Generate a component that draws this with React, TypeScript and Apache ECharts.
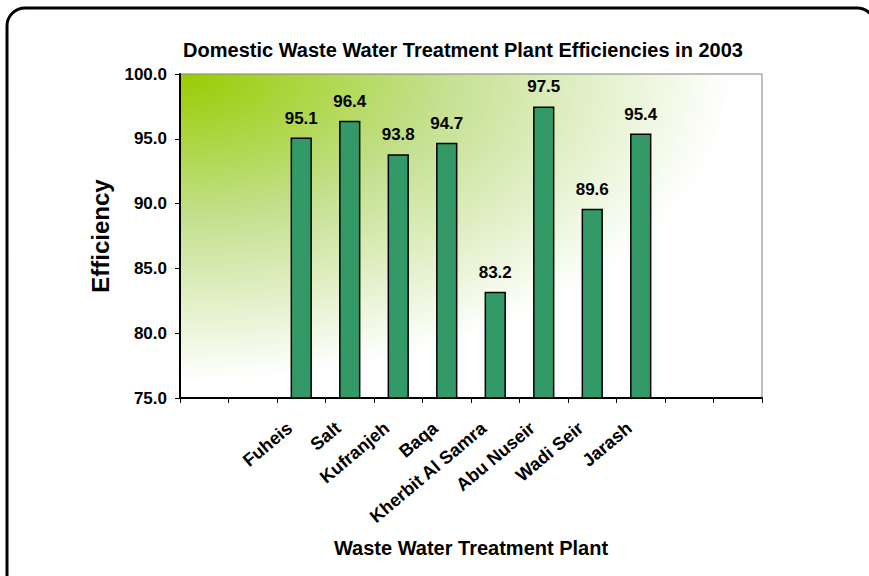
import React, { useEffect, useRef } from "react";
import * as echarts from "echarts";

const categories = ["", "", "Fuheis", "Salt", "Kufranjeh", "Baqa", "Kherbit Al Samra", "Abu Nuseir", "Wadi Seir", "Jarash", "", ""];
const efficiency: (number | null)[] = [null, null, 95.1, 96.4, 93.8, 94.7, 83.2, 97.5, 89.6, 95.4, null, null];
const titleText = "Domestic Waste Water Treatment Plant Efficiencies in 2003";
const xAxisName = "Waste Water Treatment Plant";
const yAxisName = "Efficiency";

export default function App() {
  const ref = useRef<HTMLDivElement>(null);
  useEffect(() => {
    if (!ref.current) return;
    const chart = echarts.init(ref.current, null, { renderer: "svg" });
    const font = "Liberation Sans, Arial, sans-serif";
    chart.setOption({
      animation: false,
      backgroundColor: "#ffffff",
      textStyle: { fontFamily: font },
      title: {
        text: titleText,
        left: 458,
        top: 35,
        textAlign: "center",
        textStyle: { fontFamily: font, fontWeight: "bold", fontSize: 20, color: "#000" },
      },
      graphic: [
        {
          type: "rect",
          shape: { x: 7, y: 8, width: 868, height: 585, r: 18 },
          style: { fill: "none", stroke: "#000", lineWidth: 3 },
          silent: true,
          z: 100,
        },
      ],
      grid: {
        left: 180,
        right: 107,
        top: 74,
        bottom: 178,
        show: true,
        borderColor: "#808080",
        borderWidth: 1,
        backgroundColor: new echarts.graphic.RadialGradient(0, 0, 1, [
          { offset: 0, color: "#99cc00" },
          { offset: 0.45, color: "#c4e08f" },
          { offset: 0.95, color: "#ffffff" },
          { offset: 1, color: "#ffffff" },
        ]),
      },
      xAxis: {
        type: "category",
        data: categories,
        name: xAxisName,
        nameLocation: "middle",
        nameGap: 140,
        nameTextStyle: { fontFamily: font, fontWeight: "bold", fontSize: 20, color: "#000" },
        axisLine: { lineStyle: { color: "#000", width: 2 } },
        axisTick: { show: true, length: 5, lineStyle: { color: "#000", width: 1 } },
        axisLabel: {
          interval: 0,
          rotate: 40,
          margin: 18,
          padding: [0, 15, 0, 0],
          fontFamily: font,
          fontWeight: "bold",
          fontSize: 18,
          color: "#000",
        },
      },
      yAxis: {
        type: "value",
        min: 75,
        max: 100,
        interval: 5,
        name: yAxisName,
        nameLocation: "middle",
        nameGap: 68,
        nameTextStyle: { fontFamily: font, fontWeight: "bold", fontSize: 24, color: "#000" },
        axisLine: { show: true, lineStyle: { color: "#000", width: 2 } },
        axisTick: { show: true, length: 5, lineStyle: { color: "#000", width: 1 } },
        splitLine: { show: false },
        axisLabel: {
          formatter: (v: number) => v.toFixed(1),
          margin: 13,
          fontFamily: font,
          fontWeight: "bold",
          fontSize: 17,
          color: "#000",
        },
      },
      series: [
        {
          type: "bar",
          data: efficiency,
          barWidth: "44%",
          itemStyle: { color: "#339966", borderColor: "#000", borderWidth: 1.5 },
          label: {
            show: true,
            position: "top",
            distance: 11,
            formatter: (p: any) => Number(p.value).toFixed(1),
            fontFamily: font,
            fontWeight: "bold",
            fontSize: 17,
            color: "#000",
          },
        },
      ],
    });
    return () => chart.dispose();
  }, []);
  return <div ref={ref} style={{ width: 869, height: 576, position: "absolute", left: 0, top: 0 }} />;
}
